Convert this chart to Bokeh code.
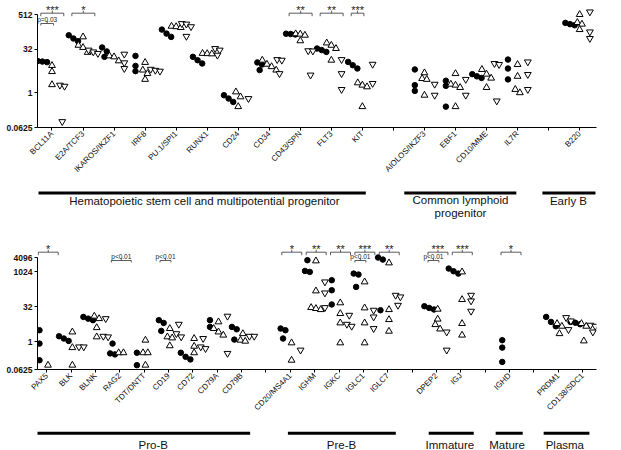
import math
from bokeh.plotting import figure
from bokeh.models import Range1d, FixedTicker, ColumnDataSource, Label
from bokeh.layouts import column
from bokeh.embed import file_html
from bokeh.resources import INLINE
from bokeh.core.properties import value

# ---------------- data (CPM values) ----------------
top_genes = ["BCL11A", "E2A/TCF3", "IKAROS/IKZF1", "IRF8", "PU.1/SPI1", "RUNX1",
             "CD24", "CD34", "CD43/SPN", "FLT3", "KIT", "",
             "AIOLOS/IKZF3", "EBF1", "CD10/MME", "IL7R", "", "B220"]
top_filled = [[12.5, 11.5, 12.0], [98, 76, 61], [37, 27, 17.5], [18.9, 8.5, 5.6],
              [154, 112, 86], [17.5, 13.4, 10.3], [0.82, 0.63, 0.48], [11.2, 9.5, 6.1],
              [111, 108, 104], [34, 30, 26], [11.7, 9.0, 6.9], [],
              [6.4, 1.83, 1.16], [2.6, 1.73, 0.33], [4.4, 3.7, 3.25], [14.1, 6.9, 2.9],
              [], [263, 237, 218]]
top_up = [[8.8, 5.4, 1.9], [86, 44, 37, 25], [18.9, 17.5, 12.7], [11.2, 6.1, 4.6, 2.9],
          [201, 194, 181], [23, 22.6, 22.2], [1.07, 0.72, 0.33], [13.4, 9.7, 8.0, 6.1],
          [110, 107, 98, 63], [53, 44, 34, 13.4], [2.2, 1.83, 1.6, 0.33], [],
          [4.9, 3.1, 2.9, 0.82], [4.6, 1.97, 1.83, 1.52, 0.33], [6.4, 4.4, 3.2, 1.52],
          [9.5, 3.7, 1.3, 1.0], [], [512, 271, 237, 154]]
top_down = [[1.83, 1.68, 0.10], [30, 26, 23], [21.7, 10.9, 6.9], [6.5, 6.0, 5.6],
            [249, 239, 194, 90], [34, 30, 20], [0.63], [14.1, 13.4, 4.6],
            [28.5, 28, 4.1], [14.1, 4.6, 1.3], [9.7, 2.1], [],
            [1.97, 0.82], [2.9, 0.82], [10.3, 9.5, 0.52], [11.7, 4.3, 1.3],
            [], [630, 128, 76]]
top_yticks = [0.0625, 1, 32, 512]
top_yticklabels = ["0.0625", "1", "32", "512"]
# (gene, from group, to group, label, tier)
top_brackets = [("BCL11A", 0, 2, "***", 0), ("BCL11A", 0, 1, "p=0.03", 1),
                ("E2A/TCF3", 0, 2, "*", 0), ("CD43/SPN", 0, 2, "**", 0),
                ("FLT3", 0, 2, "**", 0), ("KIT", 0, 1, "***", 0)]
top_stage_names = ["Hematopoietic stem cell and multipotential progenitor",
                   "Common lymphoid", "progenitor", "Early B"]

bottom_genes = ["PAX5", "BLK", "BLNK", "RAG2", "TDT/DNTT", "CD19", "CD72", "CD79A", "CD79B", "",
                "CD20/MS4A1", "IGHM", "IGKC", "IGLC1", "IGLC7", "", "DPEP2", "IGJ", "",
                "IGHD", "", "PRDM1", "CD138/SDC1"]
bottom_filled = [[3.1, 0.82, 0.157], [1.7, 1.36, 1.07], [11.6, 9.8, 8.4], [0.82, 0.31, 0.28],
                 [0.33, 0.096], [8.4, 6.4, 2.9], [0.33, 0.22, 0.17], [8.4, 4.3],
                 [4.3, 3.4, 1.22], [], [3.66, 3.1, 1.36], [3260, 1120, 1017],
                 [446, 165, 40], [861, 781, 229], [4240, 3470, 22.6], [],
                 [33.6, 28.4, 24.3], [1420, 1090, 861], [], [1.15, 0.55, 0.133], [],
                 [11.6, 7.1, 4.6], [7.1, 6.5, 5.6]]
bottom_up = [[0.096], [2.6, 0.55, 0.096], [12.5, 9.8, 4.0, 1.6], [0.33, 0.33],
             [1.15, 0.33, 0.33, 0.096], [3.66, 1.6, 1.44, 0.66], [1.36, 0.63, 0.33],
             [7.1, 3.66, 2.6, 1.9], [2.2, 1.15, 1.04], [], [0.88, 0.157],
             [3040, 154, 29.4, 26.7, 24], [47, 16.2, 6.4, 0.88], [377, 28.4, 6.4, 0.88],
             [2490, 24, 8.9, 2.8], [], [25, 9.3, 5.4, 3.5], [1017, 65, 6.0, 1.9], [],
             [], [], [6.0, 4.6, 2.2], [6.0, 4.6, 1.07]]
bottom_down = [[], [0.59, 0.59], [9.8, 1.7, 1.6], [], [], [5.6, 2.2, 1.6], [1.36, 0.59, 0.5],
               [12.5, 0.31], [1.7, 1.7], [], [0.43], [377, 126, 29.4], [13.7, 5.6, 4.6],
               [22.6, 11.6, 3.66], [100, 85, 37], [], [2.6, 0.43], [100, 57, 20.5], [],
               [], [], [10.9, 7.8, 3.3], [5.1, 4.6, 2.6]]
bottom_yticks = [0.0625, 1, 32, 1024, 4096]
bottom_yticklabels = ["0.0625", "1", "32", "1024", "4096"]
bottom_brackets = [("PAX5", 0, 2, "*", 0), ("RAG2", 0, 2, "p<0.01", 1),
                   ("CD19", 0, 1, "p<0.01", 1), ("CD20/MS4A1", 0, 2, "*", 0),
                   ("IGHM", 0, 2, "**", 0), ("IGKC", 0, 2, "**", 0),
                   ("IGLC1", 0, 2, "***", 0), ("IGLC1", 0, 1, "p<0.01", 1),
                   ("IGLC7", 0, 2, "**", 0), ("DPEP2", 0, 2, "***", 0),
                   ("DPEP2", 0, 1, "p<0.01", 1), ("IGJ", 0, 2, "***", 0),
                   ("IGHD", 0, 2, "*", 0)]
bottom_stage_names = ["Pro-B", "Pre-B", "Immature", "Mature", "Plasma"]

# ---------------- layout / style ----------------
FONT = "Liberation Sans"
W = 620

TOP = dict(height=180, frame_h=127, ppo=8.69, xr=(-0.467, 17.543), left=37, right=4,
           offsets=(-0.31, 0.0, 0.33), tiers=(12.7, 23.0), cpm_dx=-27)
BOT = dict(height=198, frame_h=143, ppo=6.975, xr=(-0.381, 22.57), left=36, right=24,
           offsets=(-0.30, 0.05, 0.42), tiers=(25.7, 34.0), cpm_dx=-26)

# stage bars: (start, end) in category units, text centre x, text middle row
top_stage_layout = [((-0.435, 10.11), 4.91, 20.3), ((11.35, 14.96), 13.16, 19.8),
                    (None, 13.16, 32.8), ((15.8, 17.51), 16.64, 20.0)]
bottom_stage_layout = [((-0.44, 8.35), 4.37), ((9.9, 14.33), 12.1),
                       ((15.68, 17.53), 16.55), ((18.43, 19.54), 18.9),
                       ((20.4, 22.28), 21.27)]


def swarm(vals, base, px_per_x, ppo, spacing=4.8, gap=5.0):
    order = sorted(range(len(vals)), key=lambda i: -vals[i])
    clusters = []
    prev = None
    for i in order:
        ypx = math.log2(vals[i]) * ppo
        if prev is not None and prev - ypx < gap:
            clusters[-1].append(i)
        else:
            clusters.append([i])
        prev = ypx
    xs = [0.0] * len(vals)
    for cl in clusters:
        n = len(cl)
        for j, i in enumerate(cl):
            xs[i] = base + (j - (n - 1) / 2) * spacing / px_per_x
    return xs


def panel(genes, groups, yticks, yticklabels, brackets, spec, cpm_value):
    frame_h, ppo = spec["frame_h"], spec["ppo"]
    ylo = yticks[0]
    yhi = ylo * 2 ** (frame_h / ppo)
    x0, x1 = spec["xr"]
    px_per_x = (W - spec["left"] - spec["right"]) / (x1 - x0)
    p = figure(width=W, height=spec["height"], x_range=Range1d(x0, x1),
               y_range=Range1d(ylo, yhi), y_axis_type="log",
               output_backend="svg", toolbar_location=None,
               min_border_left=spec["left"], min_border_right=spec["right"],
               min_border_top=0, min_border_bottom=spec["height"] - frame_h)
    p.xgrid.visible = False
    p.ygrid.visible = False
    p.outline_line_color = None

    xa = p.xaxis[0]
    xa.ticker = FixedTicker(ticks=list(range(len(genes))))
    xa.major_label_overrides = {i: g for i, g in enumerate(genes)}
    xa.major_label_orientation = math.pi / 4
    xa.major_label_text_font = FONT
    xa.major_label_text_font_size = "8px"
    xa.major_label_text_color = "#111111"
    xa.major_label_standoff = 2
    xa.major_tick_out = 3
    xa.major_tick_in = 0
    xa.minor_tick_out = 0
    xa.minor_tick_in = 0
    xa.axis_line_color = "black"
    xa.major_tick_line_color = "black"

    ya = p.yaxis[0]
    ya.ticker = FixedTicker(ticks=yticks)
    ya.major_label_overrides = {t: l for t, l in zip(yticks, yticklabels)}
    ya.bounds = (yticks[0], yticks[-1])
    ya.major_label_text_font = FONT
    ya.major_label_text_font_size = "8.5px"
    ya.major_label_text_font_style = "bold"
    ya.major_label_text_color = "#111111"
    ya.major_label_standoff = 2
    ya.major_tick_out = 3
    ya.major_tick_in = 0
    ya.minor_tick_out = 0
    ya.minor_tick_in = 0

    markers = [("circle", 5.5, "black"), ("triangle", 6.8, "white"),
               ("inverted_triangle", 6.8, "white")]
    for gi, (vals_list, (mk, size, fill)) in enumerate(zip(groups, markers)):
        xs, ys = [], []
        for ci, vals in enumerate(vals_list):
            if not vals:
                continue
            xs += swarm(vals, ci + spec["offsets"][gi], px_per_x, ppo)
            ys += list(vals)
        src = ColumnDataSource(dict(x=xs, y=ys))
        p.scatter("x", "y", source=src, marker=mk, size=size, fill_color=fill,
                  line_color="black", line_width=1)

    def yv(px):
        return ylo * 2 ** ((frame_h - px) / ppo)

    seg = dict(x0=[], y0=[], x1=[], y1=[])
    stars = dict(x=[], y=[], t=[])
    ptxt = dict(x=[], y=[], t=[])

    def add_seg(a, b, c, d):
        seg["x0"].append(a); seg["y0"].append(b); seg["x1"].append(c); seg["y1"].append(d)

    for gene, ga, gb, lab, tier in brackets:
        ci = genes.index(gene)
        bx0 = ci + spec["offsets"][ga] - 0.05
        bx1 = ci + spec["offsets"][gb] + 0.05
        bc = (bx0 + bx1) / 2
        line = spec["tiers"][tier]
        drop = 3 if tier == 0 else 2
        add_seg(bx0, yv(line), bx1, yv(line))
        add_seg(bx0, yv(line), bx0, yv(line + drop))
        add_seg(bx1, yv(line), bx1, yv(line + drop))
        add_seg(bc, yv(line), bc, yv(line - 2.5))
        if lab.startswith("p"):
            ptxt["x"].append(bc); ptxt["y"].append(yv(line - 4.0)); ptxt["t"].append(lab)
        else:
            stars["x"].append(bc); stars["y"].append(yv(line - 3.5)); stars["t"].append(lab)
    p.segment("x0", "y0", "x1", "y1", source=ColumnDataSource(seg),
              line_color="#333333", line_width=0.8)
    p.text("x", "y", text="t", source=ColumnDataSource(stars), text_font=value(FONT),
           text_font_size="11px", text_align="center", text_baseline="middle",
           text_color="#222222")
    p.text("x", "y", text="t", source=ColumnDataSource(ptxt), text_font=value(FONT),
           text_font_size="6.5px", text_align="center", text_baseline="middle",
           text_color="#222222")

    p.add_layout(Label(x=x0 + spec["cpm_dx"] / px_per_x, y=cpm_value, text="CPM",
                       angle=math.pi / 2, text_align="center", text_baseline="middle",
                       text_font=FONT, text_font_size="9.5px", text_font_style="bold",
                       text_color="#111111"))
    return p


def stage_fig(xr, height, spec, bars, texts):
    g = figure(width=W, height=height, x_range=xr, y_range=Range1d(height, 0),
               output_backend="svg", toolbar_location=None,
               x_axis_location=None, y_axis_location=None,
               min_border_left=spec["left"], min_border_right=spec["right"],
               min_border_top=0, min_border_bottom=0)
    g.xgrid.visible = False
    g.ygrid.visible = False
    g.outline_line_color = None
    g.segment("x0", "y", "x1", "y", source=ColumnDataSource(bars),
              line_color="black", line_width=3)
    g.text("x", "y", text="t", source=ColumnDataSource(texts), text_font=value(FONT),
           text_font_size="11.5px", text_align="center", text_baseline="middle",
           text_color="#111111")
    return g


f1 = panel(top_genes, [top_filled, top_up, top_down], top_yticks, top_yticklabels,
           top_brackets, TOP, 5.6)
f2 = panel(bottom_genes, [bottom_filled, bottom_up, bottom_down], bottom_yticks,
           bottom_yticklabels, bottom_brackets, BOT, 40)

tb = dict(x0=[], x1=[], y=[])
tt = dict(x=[], y=[], t=[])
for name, (span, cx, row) in zip(top_stage_names, top_stage_layout):
    if span is not None:
        tb["x0"].append(span[0]); tb["x1"].append(span[1]); tb["y"].append(12.5)
    tt["x"].append(cx); tt["y"].append(row); tt["t"].append(name)
g1 = stage_fig(f1.x_range, 46, TOP, tb, tt)

bb = dict(x0=[], x1=[], y=[])
bt = dict(x=[], y=[], t=[])
for name, (span, cx) in zip(bottom_stage_names, bottom_stage_layout):
    bb["x0"].append(span[0]); bb["x1"].append(span[1]); bb["y"].append(8.8)
    bt["x"].append(cx); bt["y"].append(20.6); bt["t"].append(name)
g2 = stage_fig(f2.x_range, 26, BOT, bb, bt)

layout = column(f1, g1, f2, g2, spacing=0)
open("out.html", "w").write(file_html(layout, INLINE))
